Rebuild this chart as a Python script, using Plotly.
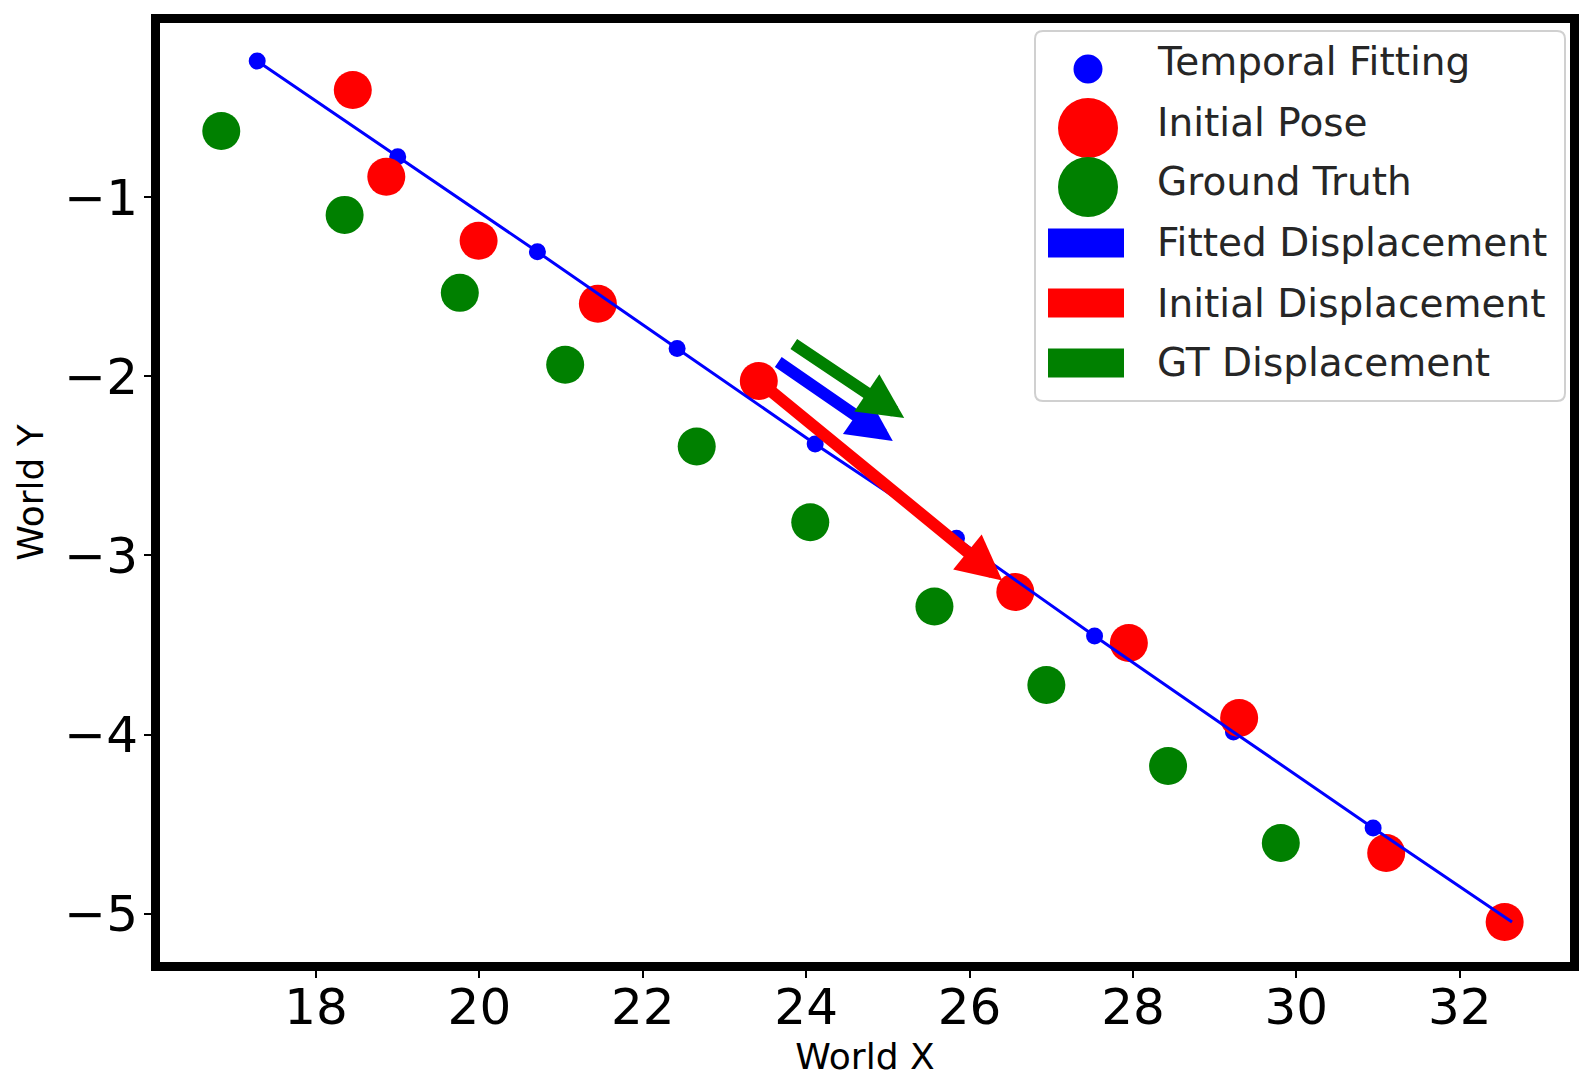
import plotly.graph_objects as go

# temporal fitting result (blue dots + fitted line)
fit_x = [17.28, 19.00, 20.71, 22.42, 24.11, 25.84, 27.53, 29.23, 30.94, 32.64]
fit_y = [-0.241, -0.775, -1.306, -1.845, -2.378, -2.905, -3.45, -3.985, -4.521, -5.046]

# initial pose (red)
init_x = [18.45, 18.86, 19.99, 21.45, 23.42, 26.56, 27.95, 29.30, 31.10, 32.55]
init_y = [-0.403, -0.887, -1.244, -1.596, -2.027, -3.204, -3.489, -3.907, -4.661, -5.046]

# ground truth (green)
gt_x = [16.84, 18.35, 19.76, 21.05, 22.66, 24.05, 25.57, 26.94, 28.43, 29.81]
gt_y = [-0.632, -1.100, -1.535, -1.936, -2.392, -2.815, -3.285, -3.723, -4.175, -4.605]

# displacement arrows (tail -> tip)
disp_names = ["Fitted Displacement", "Initial Displacement", "GT Displacement"]
disp_colors = ["blue", "red", "green"]
disp_x0 = [23.64, 23.42, 23.83]
disp_y0 = [-1.915, -2.027, -1.815]
disp_x1 = [25.06, 26.40, 25.20]
disp_y1 = [-2.362, -3.14, -2.233]

x_ticks = [18, 20, 22, 24, 26, 28, 30, 32]
y_ticks = [-1, -2, -3, -4, -5]

FONT = "DejaVu Sans"
OFF = 8  # default body margin of the html page
W, H = 1588 - 2 * OFF, 1086 - 2 * OFF
# plot area in page pixels
L, R, T, B = 160, 1570, 23, 962


def px(p):
    return (p - L) / (R - L)


def py(p):
    return (B - p) / (B - T)


fig = go.Figure()

fig.add_trace(go.Scatter(x=fit_x, y=fit_y, mode="markers", name="Temporal Fitting",
                         marker=dict(color="blue", size=17), showlegend=False))
fig.add_trace(go.Scatter(x=init_x, y=init_y, mode="markers", name="Initial Pose",
                         marker=dict(color="red", size=38), showlegend=False))
fig.add_trace(go.Scatter(x=gt_x, y=gt_y, mode="markers", name="Ground Truth",
                         marker=dict(color="green", size=38), showlegend=False))
fig.add_trace(go.Scatter(x=fit_x, y=fit_y, mode="lines", name="fit line",
                         line=dict(color="blue", width=3), showlegend=False))

# arrows
for i in range(len(disp_names)):
    fig.add_annotation(
        x=disp_x1[i], y=disp_y1[i], ax=disp_x0[i], ay=disp_y0[i],
        xref="x", yref="y", axref="x", ayref="y",
        text="", showarrow=True, arrowhead=2, arrowsize=0.75,
        arrowwidth=12, arrowcolor=disp_colors[i], standoff=0,
    )

# legend drawn by hand (matplotlib style, big handles)
bx0, by0, bx1, by1, rad = 1035, 31, 1565, 401, 8
rx = rad / (R - L)
ry = rad / (B - T)
X0, X1, Y0, Y1 = px(bx0), px(bx1), py(by0), py(by1)
path = (f"M {X0 + rx},{Y0} L {X1 - rx},{Y0} Q {X1},{Y0} {X1},{Y0 - ry} "
        f"L {X1},{Y1 + ry} Q {X1},{Y1} {X1 - rx},{Y1} "
        f"L {X0 + rx},{Y1} Q {X0},{Y1} {X0},{Y1 + ry} "
        f"L {X0},{Y0 - ry} Q {X0},{Y0} {X0 + rx},{Y0} Z")
fig.add_shape(type="path", path=path, xref="paper", yref="paper",
              line=dict(color="#d0d0d0", width=2), fillcolor="rgba(255,255,255,0.8)",
              layer="above")

legend_labels = ["Temporal Fitting", "Initial Pose", "Ground Truth"] + disp_names
legend_colors = ["blue", "red", "green"] + disp_colors
marker_rows = [69, 128, 187]
marker_sizes = [29, 60, 60]
text_rows = [62, 122, 182, 243, 303, 363]

for i in range(3):
    r = marker_sizes[i] / 2
    fig.add_shape(type="circle", xref="paper", yref="paper",
                  xsizemode="pixel", ysizemode="pixel",
                  xanchor=px(1088), yanchor=py(marker_rows[i]),
                  x0=-r, x1=r, y0=-r, y1=r,
                  fillcolor=legend_colors[i], line=dict(width=0), layer="above")
for i in range(3, 6):
    fig.add_shape(type="rect", xref="paper", yref="paper",
                  xsizemode="pixel", ysizemode="pixel",
                  xanchor=px(1086), yanchor=py(text_rows[i]),
                  x0=-38, x1=38, y0=-14.5, y1=14.5,
                  fillcolor=legend_colors[i], line=dict(width=0), layer="above")
for i in range(6):
    fig.add_annotation(x=px(1155), y=py(text_rows[i]), xref="paper", yref="paper",
                       text=legend_labels[i], showarrow=False,
                       xanchor="left", yanchor="middle",
                       font=dict(family=FONT, size=39, color="#262626"))

fig.update_layout(
    width=W, height=H, autosize=False,
    margin=dict(l=L - OFF, r=1588 - R - OFF, t=T - OFF, b=1086 - B - OFF, pad=0),
    plot_bgcolor="white", paper_bgcolor="white",
    font=dict(family=FONT, color="black"),
    showlegend=False,
)

fig.update_xaxes(
    range=[16.09, 33.35], tickvals=x_ticks, showgrid=False, zeroline=False,
    showline=True, linewidth=9, linecolor="black", mirror=True, automargin=False,
    ticks="outside", ticklen=7, tickwidth=2, tickcolor="black", ticklabelstandoff=-14,
    tickfont=dict(family=FONT, size=50, color="black"),
    title=dict(text="World X", font=dict(family=FONT, size=36, color="black"), standoff=10),
)
fig.update_yaxes(
    range=[-5.269, -0.029], tickvals=y_ticks, showgrid=False, zeroline=False,
    showline=True, linewidth=9, linecolor="black", mirror=True, automargin=False,
    ticks="outside", ticklen=7, tickwidth=2, tickcolor="black", ticklabelstandoff=-4,
    tickfont=dict(family=FONT, size=50, color="black"),
    title=dict(text="World Y", font=dict(family=FONT, size=36, color="black"), standoff=13),
)

fig.write_html("out.html")
